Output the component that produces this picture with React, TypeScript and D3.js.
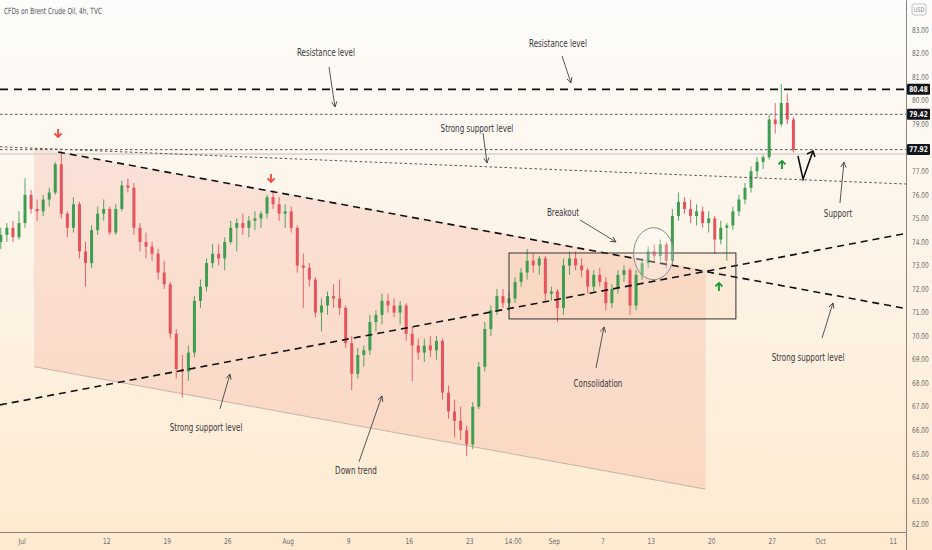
import React, { useRef, useEffect } from 'react';
import * as d3 from 'd3';

// 12h candles (open, high, low, close), first one starts two trading days before Jul 1
const candleOHLC: [number, number, number, number][] = [
  [74.0, 74.6, 73.7, 74.3], [74.3, 74.8, 74.0, 74.6], [74.6, 74.9, 74.0, 74.2], [74.2, 75.3, 74.1, 74.8],
  [74.8, 76.7, 74.6, 76.0], [76.0, 76.2, 75.2, 75.4], [75.4, 75.8, 74.9, 75.3], [75.3, 76.0, 75.1, 75.8],
  [75.8, 76.3, 75.5, 76.1], [76.1, 77.4, 76.0, 77.3], [77.3, 77.85, 75.0, 75.2], [75.2, 75.3, 74.2, 74.6],
  [74.6, 75.9, 74.4, 75.6], [75.6, 75.7, 73.3, 73.6], [73.6, 74.0, 72.1, 73.1], [73.1, 74.7, 72.9, 74.5],
  [74.5, 75.5, 74.3, 75.2], [75.2, 75.8, 74.9, 75.4], [75.4, 75.5, 74.3, 74.4], [74.4, 75.6, 74.3, 75.4],
  [75.4, 76.6, 75.3, 76.4], [76.4, 76.7, 76.1, 76.3], [76.3, 76.5, 74.3, 74.6], [74.6, 74.8, 73.6, 74.0],
  [74.0, 74.4, 73.3, 73.8], [73.8, 74.0, 73.2, 73.5], [73.5, 73.7, 72.4, 72.7], [72.7, 73.2, 72.0, 72.2],
  [72.2, 72.3, 69.9, 70.1], [70.1, 70.3, 68.2, 68.6], [68.6, 69.2, 67.4, 68.5], [68.5, 69.6, 68.1, 69.3],
  [69.3, 71.7, 69.1, 71.5], [71.5, 72.4, 71.2, 72.1], [72.1, 73.3, 71.9, 73.1], [73.1, 73.9, 72.9, 73.5],
  [73.5, 73.9, 73.0, 73.3], [73.3, 74.2, 72.8, 74.0], [74.0, 74.9, 73.9, 74.6], [74.6, 75.0, 73.6, 74.8],
  [74.8, 75.2, 74.3, 74.6], [74.6, 75.1, 74.2, 74.9], [74.9, 75.3, 74.5, 75.0], [75.0, 75.3, 74.6, 75.2],
  [75.2, 76.0, 75.0, 75.9], [75.9, 76.2, 75.4, 75.6], [75.6, 75.9, 74.9, 75.2], [75.2, 75.6, 74.6, 75.3],
  [75.3, 75.5, 74.4, 74.6], [74.6, 74.7, 72.7, 73.0], [73.0, 73.5, 71.2, 72.9], [72.9, 73.1, 72.1, 72.4],
  [72.4, 72.5, 70.8, 71.0], [71.0, 71.6, 70.2, 71.3], [71.3, 71.9, 70.9, 71.7], [71.7, 72.2, 71.2, 71.6],
  [71.6, 72.4, 70.9, 71.2], [71.2, 71.3, 69.5, 69.7], [69.7, 70.0, 67.7, 68.4], [68.4, 69.5, 68.2, 69.2],
  [69.2, 69.6, 68.7, 69.4], [69.4, 70.9, 69.2, 70.6], [70.6, 71.1, 70.2, 70.9], [70.9, 71.8, 70.5, 71.5],
  [71.5, 71.8, 71.0, 71.3], [71.3, 71.6, 70.8, 71.0], [71.0, 71.5, 70.5, 71.3], [71.3, 71.4, 69.8, 70.1],
  [70.1, 70.4, 68.1, 69.6], [69.6, 69.9, 69.0, 69.3], [69.3, 69.9, 68.9, 69.6], [69.6, 70.0, 69.1, 69.4],
  [69.4, 70.0, 69.0, 69.8], [69.8, 69.9, 67.3, 67.6], [67.6, 67.9, 66.5, 66.8], [66.8, 67.3, 65.7, 66.4],
  [66.4, 67.0, 65.6, 66.0], [66.0, 66.2, 64.9, 65.4], [65.4, 67.2, 65.2, 67.0], [67.0, 68.9, 66.9, 68.7],
  [68.7, 70.6, 68.5, 70.3], [70.3, 71.3, 70.0, 71.1], [71.1, 72.0, 70.9, 71.7], [71.7, 72.0, 71.2, 71.4],
  [71.4, 71.9, 71.1, 71.6], [71.6, 72.5, 71.4, 72.3], [72.3, 72.9, 72.1, 72.7], [72.7, 73.7, 72.4, 73.2],
  [73.2, 73.5, 72.7, 73.0], [73.0, 73.4, 72.6, 73.3], [73.3, 73.4, 71.5, 71.8], [71.8, 72.1, 71.5, 71.9],
  [71.9, 72.0, 70.6, 71.2], [71.2, 73.3, 70.9, 73.0], [73.0, 73.6, 72.6, 73.3], [73.3, 73.6, 72.8, 73.0],
  [73.0, 73.3, 72.5, 72.8], [72.8, 72.9, 71.8, 72.1], [72.1, 72.8, 71.9, 72.6], [72.6, 72.9, 72.1, 72.3],
  [72.3, 72.5, 71.1, 71.4], [71.4, 72.2, 71.2, 72.0], [72.0, 72.8, 71.8, 72.6], [72.6, 73.0, 72.3, 72.8],
  [72.8, 72.9, 70.9, 71.3], [71.3, 72.8, 71.1, 72.6], [72.6, 73.3, 72.4, 73.1], [73.1, 73.8, 72.9, 73.6],
  [73.6, 73.9, 73.1, 73.4], [73.4, 74.1, 73.2, 73.9], [73.9, 74.0, 72.9, 73.2], [73.2, 75.4, 73.0, 75.1],
  [75.1, 76.1, 74.9, 75.7], [75.7, 75.9, 75.2, 75.4], [75.4, 75.8, 74.8, 75.1], [75.1, 75.6, 74.7, 75.3],
  [75.3, 75.5, 74.6, 74.8], [74.8, 75.3, 74.4, 75.0], [75.0, 75.1, 73.5, 74.1], [74.1, 74.9, 73.9, 74.6],
  [74.6, 74.8, 73.2, 74.7], [74.7, 75.5, 74.5, 75.3], [75.3, 76.0, 75.1, 75.8], [75.8, 76.5, 75.6, 76.3],
  [76.3, 77.2, 76.1, 77.0], [77.0, 77.6, 76.7, 77.4], [77.4, 77.7, 77.1, 77.6], [77.6, 79.4, 77.5, 79.2],
  [79.2, 79.9, 78.6, 79.0], [79.0, 80.7, 78.9, 79.9], [79.9, 80.3, 79.0, 79.2], [79.2, 79.3, 77.8, 77.9],
];
const firstCandleDay = -2; // trading day index, Jul 1 = 0
const candleStep = 0.5;

const dateTicks: [number, string][] = [
  [0, 'Jul'], [7, '12'], [12, '19'], [17, '26'], [22, 'Aug'], [27, '9'], [32, '16'], [37, '23'],
  [40.6, '14:00'], [44, 'Sep'], [48, '7'], [52, '13'], [57, '20'], [62, '27'], [66, 'Oct'], [72, '11'],
];
const priceTicks = [62, 63, 64, 65, 66, 67, 68, 69, 70, 71, 72, 73, 74, 75, 76, 77, 78, 79, 80, 81, 82, 83];
const priceTags = [80.48, 79.42, 77.92];

const dashedLevels = [80.48];
const dottedLevels = [79.42, 77.92];
const lastPrice = 77.73;

// sloped lines: [day1, price1, day2, price2]
const downTrend = [2.98, 77.82, 73.06, 71.17];
const upTrend = [-1.82, 67.08, 73.06, 74.36];
const slopedSupport = [-1.82, 78.04, 73.06, 76.46];

const channel: [number, number][] = [[1.0, 78.0], [56.5, 72.8], [56.5, 63.5], [1.0, 68.7]];
const consolidationBox = { d1: 40.25, d2: 59.0, p1: 70.73, p2: 73.53 };
const breakoutCircle = { d: 52.2, p: 73.5 };

const notes = [
  { text: 'Resistance level', d: 25.12, p: 82.07, a: [25.37, 81.43, 25.87, 79.73] },
  { text: 'Resistance level', d: 44.3, p: 82.45, a: [44.63, 81.9, 45.37, 80.75] },
  { text: 'Strong support level', d: 37.6, p: 78.84, a: [38.1, 78.63, 38.43, 77.35] },
  { text: 'Support', d: 67.44, p: 75.23, a: [67.6, 75.65, 67.93, 77.39] },
  { text: 'Strong support level', d: 64.96, p: 69.11, a: [66.12, 69.92, 67.02, 71.41] },
  { text: 'Strong support level', d: 15.21, p: 66.14, a: [16.36, 66.91, 17.19, 68.39] },
  { text: 'Down trend', d: 27.6, p: 64.32, a: [27.85, 64.66, 29.75, 67.46] },
  { text: 'Consolidation', d: 47.6, p: 68.01, a: [47.44, 68.65, 48.1, 70.39] },
  { text: 'Breakout', d: 44.71, p: 75.27, a: [46.12, 74.93, 49.09, 74.0] },
];
const redArrows: [number, number][] = [[2.98, 78.63], [20.58, 76.72]];
const greenArrows: [number, number][] = [[57.6, 72.09], [62.81, 77.27]];
const projection: [number, number][] = [[64.13, 77.65], [64.55, 76.67], [65.37, 77.86]];

const W = 932;
const H = 550;
const FONT = "'Liberation Sans Narrow', 'DejaVu Sans Condensed', 'Roboto', sans-serif";

type Sel = d3.Selection<SVGGElement, unknown, null, undefined>;

// narrow text: TradingView's labels are more condensed than the fonts we have
function label(g: Sel, px: number, py: number, str: string, size: number, fill: string,
  anchor = 'middle', sx = 0.8, weight = 'normal') {
  return g.append('text')
    .attr('transform', `translate(${px},${py}) scale(${sx},1)`)
    .attr('text-anchor', anchor)
    .attr('dominant-baseline', 'central')
    .attr('font-family', FONT)
    .attr('font-size', size)
    .attr('font-weight', weight)
    .attr('fill', fill)
    .text(str);
}

export default function App() {
  const svgRef = useRef<SVGSVGElement>(null);

  useEffect(() => {
    const svg = d3.select(svgRef.current);
    svg.selectAll('*').remove();

    const plotRight = 906;
    const plotBottom = 532;

    const x = d3.scaleLinear().domain([0, 72]).range([22, 22 + 12.1 * 72]);
    const y = d3.scaleLinear().domain([62, 83]).range([524.5, 30]);

    const defs = svg.append('defs');
    const bg = defs.append('linearGradient').attr('id', 'bg').attr('x1', 0).attr('y1', 0).attr('x2', 0).attr('y2', 1);
    bg.append('stop').attr('offset', '0%').attr('stop-color', '#fdfcfa');
    bg.append('stop').attr('offset', '45%').attr('stop-color', '#fdf4e8');
    bg.append('stop').attr('offset', '100%').attr('stop-color', '#feead0');

    defs.append('clipPath').attr('id', 'plotClip')
      .append('rect').attr('width', plotRight).attr('height', plotBottom);

    const marker = defs.append('marker')
      .attr('id', 'head')
      .attr('viewBox', '0 0 8 8')
      .attr('refX', 7).attr('refY', 4)
      .attr('markerWidth', 7).attr('markerHeight', 7)
      .attr('markerUnits', 'userSpaceOnUse')
      .attr('orient', 'auto');
    marker.append('path').attr('d', 'M1,1 L7,4 L1,7').attr('fill', 'none').attr('stroke', '#444').attr('stroke-width', 1);

    svg.append('rect').attr('width', W).attr('height', H).attr('fill', 'url(#bg)');

    const plot = svg.append('g').attr('clip-path', 'url(#plotClip)') as unknown as Sel;

    // channel fill
    plot.append('path')
      .attr('d', d3.line<[number, number]>().x(d => x(d[0])).y(d => y(d[1]))(channel) + 'Z')
      .attr('fill', 'rgba(240,120,100,0.17)')
      .attr('stroke', 'none');
    plot.append('line')
      .attr('x1', x(channel[3][0])).attr('y1', y(channel[3][1]))
      .attr('x2', x(channel[2][0])).attr('y2', y(channel[2][1]))
      .attr('stroke', '#b9a89e').attr('stroke-width', 0.8);

    // consolidation box fill
    plot.append('rect')
      .attr('x', x(consolidationBox.d1)).attr('y', y(consolidationBox.p2))
      .attr('width', x(consolidationBox.d2) - x(consolidationBox.d1))
      .attr('height', y(consolidationBox.p1) - y(consolidationBox.p2))
      .attr('fill', 'rgba(250,180,120,0.12)');

    // last price line
    plot.append('line')
      .attr('x1', 0).attr('x2', plotRight)
      .attr('y1', y(lastPrice)).attr('y2', y(lastPrice))
      .attr('stroke', '#d6d2cc').attr('stroke-width', 1.5);

    // candles
    const cw = 3;
    const candles = plot.append('g');
    candleOHLC.forEach((c, i) => {
      const [o, h, l, cl] = c;
      const cx = x(firstCandleDay + i * candleStep + candleStep / 2);
      const color = cl >= o ? '#3f9d52' : '#e5545c';
      candles.append('line')
        .attr('x1', cx).attr('x2', cx).attr('y1', y(h)).attr('y2', y(l))
        .attr('stroke', color).attr('stroke-width', 0.9);
      candles.append('rect')
        .attr('x', cx - cw / 2).attr('width', cw)
        .attr('y', y(Math.max(o, cl)))
        .attr('height', Math.max(1, Math.abs(y(o) - y(cl))))
        .attr('fill', color);
    });

    // horizontal levels
    dashedLevels.forEach(p => {
      plot.append('line')
        .attr('x1', 0).attr('x2', plotRight).attr('y1', y(p)).attr('y2', y(p))
        .attr('stroke', '#111').attr('stroke-width', 1.6).attr('stroke-dasharray', '8 6');
    });
    dottedLevels.forEach(p => {
      plot.append('line')
        .attr('x1', 0).attr('x2', plotRight).attr('y1', y(p)).attr('y2', y(p))
        .attr('stroke', '#555').attr('stroke-width', 1).attr('stroke-dasharray', '2.5 2.5');
    });

    // sloped lines
    const seg = (s: number[], stroke: string, width: number, dash: string) => {
      plot.append('line')
        .attr('x1', x(s[0])).attr('y1', y(s[1])).attr('x2', x(s[2])).attr('y2', y(s[3]))
        .attr('stroke', stroke).attr('stroke-width', width).attr('stroke-dasharray', dash);
    };
    seg(slopedSupport, '#555', 1, '2.5 2.5');
    seg(downTrend, '#111', 1.6, '7 5');
    seg(upTrend, '#111', 1.6, '7 5');

    // consolidation box outline
    plot.append('rect')
      .attr('x', x(consolidationBox.d1)).attr('y', y(consolidationBox.p2))
      .attr('width', x(consolidationBox.d2) - x(consolidationBox.d1))
      .attr('height', y(consolidationBox.p1) - y(consolidationBox.p2))
      .attr('fill', 'none').attr('stroke', '#333').attr('stroke-width', 1);

    // breakout circle
    plot.append('ellipse')
      .attr('cx', x(breakoutCircle.d)).attr('cy', y(breakoutCircle.p))
      .attr('rx', 20).attr('ry', 26)
      .attr('fill', 'rgba(255,255,255,0.28)')
      .attr('stroke', '#8a8a8a').attr('stroke-width', 1);

    // signal arrows
    const arrow = (d: number, p: number, dir: number, color: string) => {
      const g = plot.append('g').attr('transform', `translate(${x(d)},${y(p)})`);
      g.append('line').attr('x1', 0).attr('x2', 0).attr('y1', -4 * dir).attr('y2', 4 * dir)
        .attr('stroke', color).attr('stroke-width', 1.8);
      g.append('path').attr('d', `M-3.5,${0.5 * dir} L0,${4 * dir} L3.5,${0.5 * dir}`)
        .attr('fill', 'none').attr('stroke', color).attr('stroke-width', 1.8);
    };
    redArrows.forEach(([d, p]) => arrow(d, p, 1, '#f04a3c'));
    greenArrows.forEach(([d, p]) => arrow(d, p, -1, '#129a2a'));

    // projected move
    plot.append('path')
      .attr('d', d3.line<[number, number]>().x(d => x(d[0])).y(d => y(d[1]))(projection) as string)
      .attr('fill', 'none').attr('stroke', '#111').attr('stroke-width', 1.6);
    const tip = projection[2];
    plot.append('path')
      .attr('d', `M${x(tip[0]) - 6},${y(tip[1]) + 3} L${x(tip[0])},${y(tip[1])} L${x(tip[0]) + 2},${y(tip[1]) + 6}`)
      .attr('fill', 'none').attr('stroke', '#111').attr('stroke-width', 1.6);

    // annotations
    notes.forEach(n => {
      plot.append('line')
        .attr('x1', x(n.a[0])).attr('y1', y(n.a[1])).attr('x2', x(n.a[2])).attr('y2', y(n.a[3]))
        .attr('stroke', '#444').attr('stroke-width', 0.9).attr('marker-end', 'url(#head)');
      label(plot, x(n.d), y(n.p), n.text, 10.5, '#3a3a3a', 'middle', 0.76);
    });

    const top = svg.append('g') as unknown as Sel;

    // title
    label(top, 4, 11, 'CFDs on Brent Crude Oil, 4h, TVC', 8.5, '#555', 'start', 0.77);

    // axes frame
    top.append('line').attr('x1', plotRight + 0.5).attr('x2', plotRight + 0.5).attr('y1', 0).attr('y2', H)
      .attr('stroke', '#8c8478').attr('stroke-width', 1);
    top.append('line').attr('x1', 0).attr('x2', plotRight).attr('y1', plotBottom + 0.5).attr('y2', plotBottom + 0.5)
      .attr('stroke', '#8c8478').attr('stroke-width', 1);

    // price axis, hiding ticks that sit under a price tag
    priceTicks
      .filter(t => priceTags.every(p => Math.abs(y(t) - y(p)) > 8))
      .forEach(t => label(top, 912, y(t), t.toFixed(2), 8, '#6a6a6a', 'start', 0.82));

    priceTags.forEach(p => {
      top.append('rect').attr('x', 907).attr('y', y(p) - 5.5).attr('width', 23).attr('height', 11)
        .attr('rx', 1).attr('fill', '#14161c');
      label(top, 918.5, y(p), p.toFixed(2), 8, '#fff', 'middle', 0.82, 'bold');
    });

    top.append('rect').attr('x', 912).attr('y', 4).attr('width', 14).attr('height', 11).attr('rx', 2)
      .attr('fill', 'none').attr('stroke', '#b5b5b5').attr('stroke-width', 0.8);
    label(top, 919, 9.8, 'USD', 6.5, '#888', 'middle', 0.85);

    // time axis
    dateTicks.forEach(([d, t]) => label(top, x(d), 541, t, 8, '#6a6a6a', 'middle', 0.82));
  }, []);

  return (
    <svg ref={svgRef} width={W} height={H} style={{ position: 'absolute', left: 0, top: 0, display: 'block' }} />
  );
}
